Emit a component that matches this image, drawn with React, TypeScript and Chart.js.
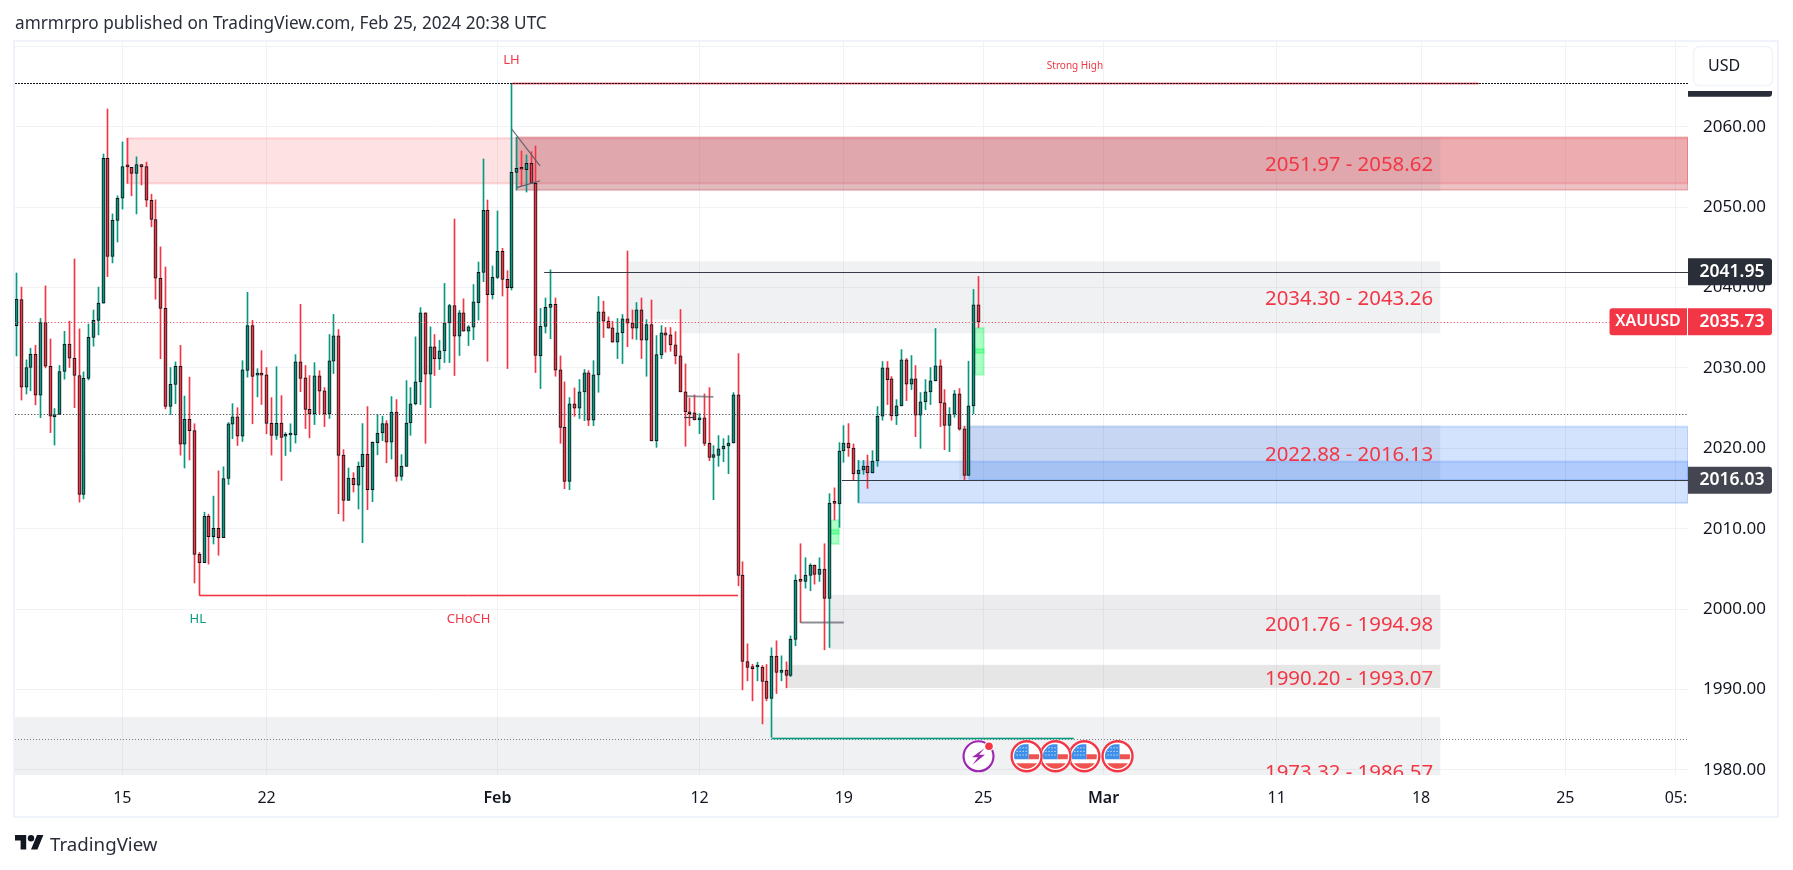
import React, { useEffect, useRef } from "react";
import { Chart, registerables } from "chart.js";

Chart.register(...registerables);

const opens = [2035.25,2038.5,2027.6,2030.05,2031.7,2026.6,2035.65,2030.2,2023.93,2024.2,
2029.55,2032.95,2031.2,2029.05,2014.25,2028.7,2033.8,2035.9,2038.05,2056.05,
2043.85,2048.35,2051.1,2055.05,2054.95,2054.2,2055.3,2055.05,2050.85,2048.45,
2041.15,2037.4,2025.2,2027.95,2030.2,2020.5,2023.6,2022.2,2006.8,2005.77,
2011.55,2009,2010.05,2008.9,2016.25,2023,2023.9,2021.5,2029.7,2035.25,
2029.1,2029.15,2029.13,2023.1,2021.6,2023.15,2021.5,2021.65,2021.65,2030.75,
2028.75,2024.85,2024.27,2029,2027.15,2024.27,2030.83,2033.98,2019.15,2013.53,
2016.27,2015.43,2017.72,2019.25,2014.85,2020.7,2021.9,2023.07,2020.75,2024.52,
2016.51,2017.76,2023.15,2025.52,2028.26,2036.85,2029.21,2032.61,2031.12,2032.1,
2035.6,2037.76,2033.94,2036.85,2034.56,2035.06,2038.11,2041.88,2049.59,2039.1,
2041.26,2044.5,2041.01,2039.98,2054.3,2054.8,2054.65,2055.44,2052.95,2031.5,
2035.17,2037.53,2037.9,2029.75,2022.61,2015.89,2025.52,2024.98,2027,2029.38,
2023.49,2029.13,2036.97,2035.81,2034.98,2033.2,2034.36,2036.1,2035.6,2034.94,
2037.22,2033.44,2035.39,2020.91,2031.62,2034.36,2034.1,2032.86,2031.49,2027.01,
2024.52,2024.4,2023.53,2023.78,2020.62,2018.88,2019.13,2019.92,2020.29,2020.66,
2026.64,2004.23,1993.49,1992.74,1992.8,1992.78,1991.04,1988.88,1994.15,1992.12,
1992.41,1991.74,1996.23,2003.6,2003.44,2004.19,2005.48,2004.32,2004.98,2001.33,
2013.25,2013.07,2019.67,2020.66,2020.04,2016.8,2017.3,2017.8,2016.93,2018.42,
2024,2030,2028.63,2024.02,2025.27,2031,2027.97,2028.63,2024.11,2025.77,
2027.01,2028.38,2030.25,2025.64,2022.85,2024.23,2026.76,2022.41,2016.63,2025.27,
2037.84];

const highs = [2041.8,2040.05,2031,2032.45,2032.8,2036.15,2040.2,2033.6,2024.95,2030.3,
2034.55,2035.8,2043.55,2034.85,2029.5,2035.45,2037.2,2040.05,2056.6,2062.2,
2049.15,2051.4,2058.1,2058.55,2054.95,2056.25,2055.3,2055.6,2051.6,2050.9,
2045.05,2042.55,2030.05,2030.75,2032.8,2026.5,2028.85,2023.05,2007.05,2012.05,
2011.8,2014.05,2017.2,2017.7,2023.2,2025.55,2025.05,2030.9,2039.4,2035.9,
2029.9,2032.15,2030.05,2026.3,2030.15,2026.55,2021.95,2023.05,2031.65,2037.9,
2030.3,2029.05,2030.65,2029.65,2027.55,2034.15,2036.65,2034.77,2019.83,2017.55,
2016.97,2018.3,2023.07,2025.19,2020.8,2024.2,2024,2023.44,2026.43,2026.06,
2019.21,2028.42,2027.55,2033.86,2037.5,2036.85,2035.1,2034.15,2033.44,2040.5,
2037.9,2048.52,2037.14,2038.59,2035.27,2040.37,2043.17,2055.98,2050.88,2042.67,
2049.51,2044.87,2042.09,2065.39,2058.67,2056.97,2056.48,2056.89,2057.6,2037.4,
2038.69,2042.2,2038.69,2031.49,2028.26,2026.31,2027.51,2028.55,2029.8,2029.67,
2030.9,2038.88,2038.3,2036.35,2035.8,2036.14,2036.64,2044.54,2037.2,2038.13,
2038.69,2036,2038.44,2034.02,2035.27,2035.02,2035.02,2034.52,2037.26,2030.5,
2026.27,2026.64,2024.32,2026.76,2027.55,2020.33,2021.58,2021.2,2021.58,2026.93,
2031.78,2005.89,1995.68,1993.15,1993.4,1992.99,1993.11,1995.19,1996.06,1994.19,
1993.44,1996.68,2004.27,2008.13,2006.39,2005.64,2005.48,2006.39,2008.13,2014.36,
2015.08,2020.71,2022.82,2023.07,2020.54,2018.51,2018.5,2019.17,2019.71,2025.19,
2030.79,2030.79,2028.92,2026.06,2032.28,2031.16,2031.54,2030.29,2026.93,2028.55,
2030.04,2034.9,2031,2027.3,2025.06,2027.2,2027.43,2022.74,2030.83,2039.75,
2041.37];

const lows = [2031.48,2026,2026.75,2027.15,2025.4,2023.8,2030,2021.95,2020.4,2024.2,
2028.6,2030.05,2025.05,2013.3,2013.7,2028.5,2032.7,2034.1,2038.05,2041.35,
2043.05,2045.65,2049.75,2052.95,2051.4,2049.15,2052.75,2050.05,2047.55,2038.55,
2031.15,2024.9,2024.2,2025.55,2019.15,2017.55,2018.55,2003.25,2001.75,2005.77,
2005.6,2008.1,2006.7,2008.9,2015.5,2021.2,2020.35,2020.85,2028.85,2023.05,
2026.4,2025.45,2021.8,2019.15,2021.1,2016,2019.1,2019.6,2020.65,2027.05,
2022.45,2021.3,2022.95,2024.27,2022.7,2023.7,2029.3,2011.87,2010.95,2013.53,
2014.56,2012.45,2008.26,2012.37,2013.36,2019.2,2020.95,2018.2,2018.67,2015.9,
2016.02,2017.76,2021.62,2025.4,2025.44,2020.62,2025.06,2029.05,2029.8,2030.66,
2030.66,2029.05,2031.54,2034.56,2032.78,2033.5,2035.95,2040.72,2030.83,2038.57,
2041.1,2038.94,2029.92,2039.7,2052.12,2052.66,2051.87,2052.95,2029.42,2027.43,
2034.34,2033.63,2028.96,2020.62,2014.98,2014.85,2023.98,2023.7,2023.44,2022.82,
2022.82,2026.97,2033.78,2034.94,2033.2,2031.16,2030.54,2032.64,2033.6,2033.53,
2031.16,2028.96,2020.91,2020.12,2031.16,2031.95,2032.07,2030.5,2027.01,2020.25,
2022.82,2023.53,2021.83,2020.33,2018.46,2013.61,2017.76,2018.34,2016.85,2020.66,
2002.9,1989.96,1991.08,1988.59,1991.08,1985.73,1988.59,1984.07,1989.5,1991.08,
1990.21,1991.6,1995.44,1998.34,2002.61,2002.28,2003.11,2003.44,1994.94,1995.23,
2011.08,2010.17,2018.26,2019,2016.02,2013.28,2016.76,2015.02,2016.93,2017.76,
2023.49,2025.44,2023.49,2022.95,2025.27,2025.93,2027.3,2021.45,2020,2024.81,
2025.44,2028.38,2022.7,2019.83,2019.59,2023.86,2022.24,2015.97,2016.63,2024.27,
2035.02];

const closes = [2038.52,2027.6,2030.05,2031.7,2026.6,2035.65,2030.2,2024,2024.2,2029.55,
2032.95,2031.2,2029.05,2014.25,2028.7,2033.8,2035.9,2038.05,2056.05,2043.85,
2048.35,2051.1,2055.05,2055,2054.2,2055.3,2055,2050.85,2048.45,2041.15,
2037.4,2025.2,2027.95,2030.2,2020.5,2023.6,2022.2,2006.8,2005.77,2011.55,
2009,2010.05,2008.9,2016.25,2023.03,2023.9,2021.5,2029.75,2035.25,2028.95,
2029.13,2029.1,2023.1,2021.6,2023.1,2021.35,2021.55,2021.7,2030.75,2028.7,
2024.85,2024.27,2029,2027.1,2024.27,2030.87,2033.98,2019.13,2013.53,2016.31,
2015.48,2017.76,2019.25,2014.85,2020.75,2021.87,2023.07,2020.75,2024.52,2016.51,
2017.76,2023.15,2025.52,2028.26,2036.85,2029.21,2032.61,2031.12,2032.12,2035.6,
2037.76,2033.94,2036.85,2034.56,2035.1,2038.22,2041.88,2049.59,2039.1,2041.26,
2044.5,2041.01,2039.98,2054.32,2054.82,2054.7,2055.44,2052.95,2031.56,2035.17,
2037.53,2037.9,2029.71,2022.61,2015.89,2025.52,2024.98,2027.01,2029.38,2023.49,
2029.13,2036.97,2035.81,2034.94,2033.2,2034.36,2036.1,2035.56,2034.94,2037.22,
2033.44,2035.39,2020.91,2031.66,2034.36,2034.07,2032.86,2031.49,2027.01,2024.52,
2024.3,2023.53,2023.78,2020.62,2018.88,2019.21,2019.92,2020.29,2020.66,2026.64,
2004.2,1993.49,1992.74,1992.6,1992.85,1991,1988.88,1994.15,1992.12,1992.41,
1991.74,1996.27,2003.61,2003.45,2004.23,2005.48,2004.32,2004.98,2001.33,2013.2,
2013.15,2019.67,2020.66,2020.04,2016.8,2017.3,2017.8,2016.93,2018.42,2024.02,
2030,2028.55,2024.02,2025.27,2031,2027.97,2028.63,2024.11,2025.77,2027.01,
2028.38,2030.25,2025.64,2022.85,2024.23,2026.76,2022.37,2016.63,2025.27,2037.84,
2035.73];

const priceTicks = [1980, 1990, 2000, 2010, 2020, 2030, 2040, 2050, 2060, 2070];
const hiddenPriceTicks = [2070];
const dateTickBars = [22, 52, 100, 142, 172, 201, 226, 262, 292, 322, 345];
const dateTickLabels = ["15", "22", "Feb", "12", "19", "25", "Mar", "11", "18", "25", "05:"];
const boldDateLabels = ["Feb", "Mar"];

const X_MIN = -0.312;
const X_MAX = 347.5;
const Y_MIN = 1979.37;
const Y_MAX = 2070.53;
const BOX_END = 296;

// zones: [fromBar, toBar, upper price, lower price, kind]
const zones: [number, number, number, number, string][] = [
  [23, X_MAX, 2058.56, 2052.95, "red"],
  [104, X_MAX, 2058.68, 2052.13, "redDark"],
  [104, BOX_END, 2058.62, 2051.97, "gray"],
  [127, 138, 2043.26, 2036, "gray"],
  [138, BOX_END, 2043.26, 2034.3, "gray"],
  [196, BOX_END, 2022.88, 2016.13, "gray"],
  [169, BOX_END, 2001.76, 1994.98, "gray14"],
  [160, BOX_END, 1993.07, 1990.2, "gray20"],
  [X_MIN, BOX_END, 1986.57, 1973.32, "gray"],
  [175, X_MAX, 2018.35, 2013.2, "blue"],
  [198, X_MAX, 2022.7, 2016.05, "blue"],
  [199.3, 201.1, 2034.96, 2029.15, "mint"],
  [199.3, 201.1, 2032.35, 2031.85, "mint"],
  [169.3, 170.95, 2011.05, 2008.1, "mint"],
  [169.3, 170.95, 2009.85, 2009.35, "mint"],
];

const zoneLabels: [number, string][] = [
  [2055.17, "2051.97 - 2058.62"],
  [2038.53, "2034.30 - 2043.26"],
  [2019.19, "2022.88 - 2016.13"],
  [1998.02, "2001.76 - 1994.98"],
  [1991.31, "1990.20 - 1993.07"],
  [1979.65, "1973.32 - 1986.57"],
];
const ZONE_LABEL_BAR = 294.5;

// lines: [fromBar, fromPrice, toBar, toPrice, kind]
const lines: [number, number, number, number, string][] = [
  [103, 2065.47, 304, 2065.47, "redBand"],
  [X_MIN, 2065.39, X_MAX, 2065.39, "topDash"],
  [X_MIN, 2035.73, 331.2, 2035.73, "redDots"],
  [X_MIN, 2024.23, X_MAX, 2024.23, "darkDots"],
  [X_MIN, 1983.9, X_MAX, 1983.9, "grayDots"],
  [109.7, 2041.95, X_MAX, 2041.95, "solidDark"],
  [171.6, 2016.03, X_MAX, 2016.03, "solidDark"],
  [38, 2001.72, 150, 2001.72, "redBand"],
  [157, 1984, 219.8, 1984, "tealBand"],
  [139.3, 2026.5, 144.9, 2026.4, "grayThick"],
  [138.8, 2023.85, 141.1, 2023.85, "solidDark"],
  [163, 1998.4, 172, 1998.4, "grayThick"],
  [102.95, 2059.71, 108.84, 2055.11, "solidGray"],
  [104, 2052.41, 108.84, 2053.28, "solidGray"],
];

const chartNotes: [number, number, string, string, number][] = [
  [102.9, 2068.22, "LH", "#f23645", 13],
  [220.06, 2067.55, "Strong High", "#f23645", 10],
  [37.7, 1998.75, "HL", "#089981", 13],
  [94, 1998.75, "CHoCH", "#f23645", 13],
];

const eventBars = [200, 210, 216, 222, 228.9];
const EVENT_PRICE = 1981.7;

const priceTags: [number, string, string][] = [
  [2065.39, "", "#2a2e39"],
  [2041.95, "2041.95", "#2a2e39"],
  [2016.03, "2016.03", "#434651"],
  [2035.73, "2035.73", "#f23645"],
];

const FONT = '"Noto Sans"';

const zoneStyles: Record<string, { fill: string; stroke?: string }> = {
  red: { fill: "rgba(242,54,69,0.15)", stroke: "rgba(242,54,69,0.18)" },
  redDark: { fill: "rgba(200,50,60,0.3)", stroke: "rgba(200,50,60,0.22)" },
  gray: { fill: "rgba(120,123,134,0.11)" },
  gray14: { fill: "rgba(120,123,134,0.14)" },
  gray20: { fill: "rgba(120,120,124,0.19)" },
  blue: { fill: "rgba(33,110,245,0.2)", stroke: "rgba(33,110,245,0.18)" },
  mint: { fill: "rgba(0,255,80,0.32)", stroke: "rgba(0,255,80,0.25)" },
};

const lineStyles: Record<string, { color: string; width: number; dash?: number[]; under?: string }> = {
  redBand: { color: "#f23645", width: 1, under: "rgba(242,54,69,0.3)" },
  tealBand: { color: "#089981", width: 1, under: "rgba(8,153,129,0.3)" },
  topDash: { color: "#131722", width: 1, dash: [2, 1] },
  redDots: { color: "#f23645", width: 1, dash: [1, 2.3] },
  darkDots: { color: "#434651", width: 1, dash: [1.2, 2] },
  grayDots: { color: "#787b86", width: 1, dash: [1, 2] },
  solidDark: { color: "#363a45", width: 1.2 },
  solidGray: { color: "#5d606b", width: 1.2 },
  grayThick: { color: "rgba(93,96,107,0.7)", width: 1.8 },
};

function drawFlag(ctx: CanvasRenderingContext2D, cx: number, cy: number) {
  ctx.save();
  ctx.beginPath();
  ctx.arc(cx, cy, 16.5, 0, Math.PI * 2);
  ctx.fillStyle = "#ffffff";
  ctx.fill();
  ctx.beginPath();
  ctx.arc(cx, cy, 15, 0, Math.PI * 2);
  ctx.strokeStyle = "#f23645";
  ctx.lineWidth = 2.4;
  ctx.stroke();
  ctx.beginPath();
  ctx.arc(cx, cy, 12.5, 0, Math.PI * 2);
  ctx.clip();
  ctx.fillStyle = "#ffffff";
  ctx.fillRect(cx - 13, cy - 13, 26, 26);
  ctx.fillStyle = "#ef5350";
  ctx.fillRect(cx + 2, cy - 2, 11, 5);
  ctx.fillRect(cx - 13, cy + 7, 26, 6);
  ctx.fillStyle = "#3d8fe8";
  ctx.fillRect(cx - 13, cy - 12, 15, 15);
  ctx.fillStyle = "rgba(255,255,255,0.85)";
  for (let r = 0; r < 3; r++) for (let c = 0; c < 4; c++) ctx.fillRect(cx - 10 + c * 3, cy - 9 + r * 3.6, 1.1, 1.1);
  ctx.restore();
}

function drawBolt(ctx: CanvasRenderingContext2D, cx: number, cy: number) {
  ctx.save();
  ctx.beginPath();
  ctx.arc(cx, cy, 16.5, 0, Math.PI * 2);
  ctx.fillStyle = "#ffffff";
  ctx.fill();
  ctx.beginPath();
  ctx.arc(cx, cy, 15, 0, Math.PI * 2);
  ctx.strokeStyle = "#9c27b0";
  ctx.lineWidth = 2.2;
  ctx.stroke();
  ctx.beginPath();
  ctx.moveTo(cx + 6, cy - 8);
  ctx.lineTo(cx - 6.5, cy + 1);
  ctx.lineTo(cx - 0.5, cy + 1);
  ctx.lineTo(cx - 6, cy + 8.5);
  ctx.lineTo(cx + 6.5, cy - 1.5);
  ctx.lineTo(cx + 0.5, cy - 1.5);
  ctx.closePath();
  ctx.fillStyle = "#9c27b0";
  ctx.fill();
  ctx.beginPath();
  ctx.arc(cx + 10.5, cy - 10, 5, 0, Math.PI * 2);
  ctx.fillStyle = "#ffffff";
  ctx.fill();
  ctx.beginPath();
  ctx.arc(cx + 10.5, cy - 10, 3.8, 0, Math.PI * 2);
  ctx.fillStyle = "#f23645";
  ctx.fill();
  ctx.restore();
}

const tvPlugin = {
  id: "tvOverlay",
  beforeDatasetsDraw(chart: any) {
    const { ctx, chartArea: a, scales } = chart;
    const X = (v: number) => scales.x.getPixelForValue(v);
    const Y = (v: number) => scales.y.getPixelForValue(v);
    chart.getSortedVisibleDatasetMetas().forEach((m: any) => {
      m.data.forEach((el: any) => {
        el.x = Math.floor(el.x) + 0.5;
      });
    });
    ctx.save();
    ctx.beginPath();
    ctx.rect(a.left, a.top, a.right - a.left, a.bottom - a.top);
    ctx.clip();
    zones.forEach(([x0, x1, hi, lo, kind]) => {
      const s = zoneStyles[kind];
      const l = X(x0);
      const r = X(x1);
      const t = Y(hi);
      const b = Y(lo);
      ctx.fillStyle = s.fill;
      ctx.fillRect(l, t, r - l, b - t);
      if (s.stroke) {
        ctx.strokeStyle = s.stroke;
        ctx.lineWidth = 2;
        ctx.strokeRect(l, t, r - l, b - t);
      }
    });
    ctx.restore();
  },
  afterDatasetsDraw(chart: any) {
    const { ctx, chartArea: a, scales } = chart;
    const X = (v: number) => scales.x.getPixelForValue(v);
    const Y = (v: number) => scales.y.getPixelForValue(v);
    ctx.save();
    ctx.beginPath();
    ctx.rect(a.left, a.top, a.right - a.left, a.bottom - a.top);
    ctx.clip();
    lines.forEach(([x0, p0, x1, p1, kind]) => {
      const s = lineStyles[kind];
      const y0 = Math.round(Y(p0)) + 0.5;
      const y1 = Math.round(Y(p1)) + 0.5;
      const flat = p0 === p1;
      if (s.under) {
        ctx.beginPath();
        ctx.strokeStyle = s.under;
        ctx.lineWidth = 3;
        ctx.setLineDash([]);
        ctx.moveTo(X(x0), y0);
        ctx.lineTo(X(x1), y1);
        ctx.stroke();
      }
      ctx.beginPath();
      ctx.strokeStyle = s.color;
      ctx.lineWidth = s.width;
      ctx.setLineDash(s.dash || []);
      ctx.moveTo(X(x0), flat ? y0 : Y(p0));
      ctx.lineTo(X(x1), flat ? y1 : Y(p1));
      ctx.stroke();
    });
    ctx.setLineDash([]);
    ctx.textBaseline = "middle";
    ctx.textAlign = "right";
    ctx.fillStyle = "#f23645";
    ctx.font = `20.4px ${FONT}`;
    zoneLabels.forEach(([p, t]) => ctx.fillText(t, X(ZONE_LABEL_BAR), Y(p)));
    ctx.textAlign = "center";
    chartNotes.forEach(([i, p, t, c, size]) => {
      ctx.fillStyle = c;
      ctx.font = `${size}px ${FONT}`;
      ctx.fillText(t, X(i), Y(p));
    });
    const ey = Y(EVENT_PRICE);
    for (let k = eventBars.length - 1; k >= 1; k--) drawFlag(ctx, X(eventBars[k]), ey);
    drawBolt(ctx, X(eventBars[0]), ey);
    ctx.restore();
  },
  afterDraw(chart: any) {
    const { ctx, chartArea: a, scales } = chart;
    const Y = (v: number) => scales.y.getPixelForValue(v);
    const axisW = 84;
    ctx.save();
    ctx.textBaseline = "middle";
    priceTags.forEach(([p, t, c], idx) => {
      const yc = Y(p);
      ctx.fillStyle = c;
      ctx.beginPath();
      ctx.roundRect(a.right, yc - 13.5, axisW, 27, [0, 3, 3, 0]);
      ctx.fill();
      if (t) {
        ctx.fillStyle = "#ffffff";
        ctx.font = `600 17.5px ${FONT}`;
        ctx.textAlign = "center";
        ctx.fillText(t, a.right + axisW / 2 + 2, yc);
      }
      if (idx === 3) {
        ctx.fillStyle = c;
        ctx.beginPath();
        ctx.roundRect(a.right - 78.5, yc - 13.5, 77.5, 27, [3, 0, 0, 3]);
        ctx.fill();
        ctx.fillStyle = "#ffffff";
        ctx.textAlign = "center";
        ctx.font = `600 16px ${FONT}`;
        ctx.fillText("XAUUSD", a.right - 40, yc);
      }
    });
    ctx.fillStyle = "#ffffff";
    ctx.fillRect(a.right, a.top, 90, 49);
    ctx.beginPath();
    ctx.roundRect(a.right + 5.5, a.top + 4.5, 79, 39, 6);
    ctx.strokeStyle = "#f0f3fa";
    ctx.lineWidth = 1.5;
    ctx.stroke();
    ctx.fillStyle = "#131722";
    ctx.font = `16px ${FONT}`;
    ctx.textAlign = "left";
    ctx.fillText("USD", a.right + 20, a.top + 24);
    ctx.strokeStyle = "#f0f3fa";
    ctx.lineWidth = 2;
    ctx.strokeRect(14, 41, 1764, 776);
    ctx.fillStyle = "#2a2e39";
    ctx.font = `17.2px ${FONT}`;
    ctx.textAlign = "left";
    ctx.fillText("amrmrpro published on TradingView.com, Feb 25, 2024 20:38 UTC", 15, 24);
    ctx.save();
    ctx.translate(15, 831.8);
    ctx.scale(0.8, 0.8);
    ctx.fillStyle = "#131722";
    ctx.fill(new Path2D("M14 22H7V11H0V4h14v18zM28 22h-8l7.5-18h8L28 22z"));
    ctx.beginPath();
    ctx.arc(20, 8, 4, 0, Math.PI * 2);
    ctx.fill();
    ctx.restore();
    ctx.fillStyle = "#2a2e39";
    ctx.font = `18.7px ${FONT}`;
    ctx.fillText("TradingView", 50, 846);
    ctx.restore();
  },
};

export default function App() {
  const ref = useRef<HTMLCanvasElement | null>(null);
  useEffect(() => {
    if (!ref.current) return;
    const color = (i: number) => (closes[i] >= opens[i] ? "#089981" : "#f23645");
    const chart = new Chart(ref.current, {
      type: "bar",
      data: {
        datasets: [
          {
            label: "body",
            data: opens.map((o, i) => ({ x: i, y: [Math.min(o, closes[i]), Math.max(o, closes[i])] })),
            backgroundColor: opens.map((_, i) => color(i)),
            borderColor: "#0d0f14",
            borderWidth: 1,
            borderSkipped: false,
            barThickness: 3.2,
            minBarLength: 2,
            grouped: false,
            order: 1,
          } as any,
          {
            label: "wick",
            data: highs.map((h, i) => ({ x: i, y: [lows[i], h] })),
            backgroundColor: opens.map((_, i) => color(i)),
            borderWidth: 0,
            barThickness: 1,
            grouped: false,
            order: 2,
          } as any,
        ],
      },
      options: {
        responsive: false,
        animation: false,
        devicePixelRatio: 1,
        layout: { padding: { left: 15, right: 15, top: 42, bottom: 54 } },
        plugins: { legend: { display: false }, tooltip: { enabled: false }, title: { display: false } },
        scales: {
          x: {
            type: "linear",
            offset: false,
            min: X_MIN,
            max: X_MAX,
            afterBuildTicks: (s: any) => {
              s.ticks = dateTickBars.map((v) => ({ value: v }));
            },
            afterFit: (s: any) => {
              s.height = 41;
            },
            grid: { color: "#f1f2f6", lineWidth: 1, offset: false, drawTicks: false },
            border: { display: false },
            ticks: {
              autoSkip: false,
              maxRotation: 0,
              padding: 14,
              color: "#131722",
              font: (c: any) => ({
                family: FONT,
                size: 16,
                weight: boldDateLabels.includes(dateTickLabels[c.index]) ? 600 : 400,
              }),
              callback: (_v: any, i: number) => dateTickLabels[i],
            },
          },
          y: {
            type: "linear",
            position: "right",
            beginAtZero: false,
            min: Y_MIN,
            max: Y_MAX,
            afterBuildTicks: (s: any) => {
              s.ticks = priceTicks.map((v) => ({ value: v }));
            },
            afterFit: (s: any) => {
              s.width = 90;
            },
            grid: { color: "#f1f2f6", lineWidth: 1, drawTicks: false },
            border: { display: false },
            ticks: {
              padding: 15,
              color: "#131722",
              font: { family: FONT, size: 17 },
              callback: (v: any) => (hiddenPriceTicks.includes(Number(v)) ? "" : Number(v).toFixed(2)),
            },
          },
        },
      } as any,
      plugins: [tvPlugin],
    });
    return () => chart.destroy();
  }, []);
  return (
    <>
      <style>{`body{margin:0;background:#fff}`}</style>
      <canvas ref={ref} width={1793} height={870} style={{ display: "block" }} />
    </>
  );
}
